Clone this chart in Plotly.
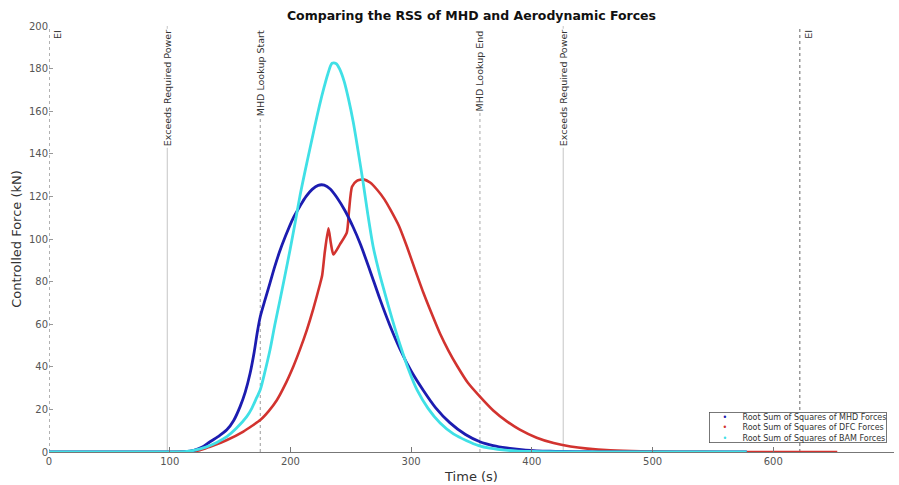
import plotly.graph_objects as go

# ---------------- data ----------------
mhd_t = [0, 100, 112, 120, 127, 133.4, 140, 147.3, 153, 158.3, 162.5, 166.6, 170, 172.5,
         175, 179, 183.1, 187, 191, 196, 202, 208, 213, 218, 223, 228, 233, 238.5, 245,
         252, 258, 266, 274, 282, 291, 300, 310, 320, 332, 345, 357, 368, 379, 395,
         415, 450, 500, 578]
mhd_v = [0, 0, 0.2, 0.8, 2.3, 4.8, 7.2, 10.4, 14.8, 21.3, 28, 37, 47, 56,
         63.5, 71.5, 79.4, 87, 94, 101.5, 109.5, 115.5, 120, 123.3, 125.2, 125.3, 123.5, 119.5, 113.5,
         105.5, 97.5, 85, 72, 60, 48, 38, 29, 21, 13.8, 8.2, 4.8, 3.0, 1.9, 0.9,
         0.35, 0.1, 0, 0]

bam_t = [0, 100, 112, 120, 130, 139, 147.3, 155, 163.8, 168, 172, 175, 179, 183.1, 187,
         191.4, 195.5, 199.7, 204, 208, 212, 216, 220, 224, 228, 231, 234.5, 238, 241,
         244.5, 248, 252, 256, 260.2, 264, 268.5, 273, 277, 284, 291, 298, 305, 314,
         324, 335, 346, 356, 365, 380, 400, 430, 578]
bam_v = [0, 0, 0.2, 0.8, 2.3, 4.5, 7.2, 11, 16.6, 20.5, 25.5, 29.2, 38, 48, 59.5,
         71.5, 83, 95, 108, 120.5, 131.5, 142, 152.5, 162.5, 171.5, 177.5, 182.5, 182.3, 179.5,
         174, 166, 155, 141.5, 126.6, 112, 96.5, 85.5, 77, 63, 50, 38.5, 29, 20.5,
         13.6, 8.5, 5.3, 3.0, 1.8, 0.8, 0.25, 0.05, 0]

dfc_t = [0, 100, 115, 125, 133.4, 147, 161, 168, 175, 182, 188.7, 195, 202.5, 208,
         213.5, 219, 224.6, 226.3, 228.5, 231.5, 233.5, 235.6, 241, 246.7, 248.5, 251,
         255, 260.5, 266, 272, 278, 282.6, 290, 296.4, 303, 310, 317, 324, 331, 338,
         347, 357, 368, 379, 390, 404, 418, 432, 446, 465, 490, 520, 560, 653]
dfc_v = [0, 0, 0.2, 0.8, 2.5, 5.5, 9.6, 12.2, 15, 19.2, 24.3, 30.9, 40.3, 48.3,
         57.1, 67.3, 79, 83, 94, 105, 98, 92.7, 97.5, 103, 113, 124.5,
         127.3, 128, 126.5, 123, 118.5, 114, 106, 96.6, 86, 75, 65, 55.5, 47.5, 40.5,
         32.5, 26, 19.5, 14.5, 10.5, 6.7, 4.2, 2.6, 1.6, 0.8, 0.3, 0.1, 0, 0]

series_names = ["Root Sum of Squares of MHD Forces",
                "Root Sum of Squares of DFC Forces",
                "Root Sum of Squares of BAM Forces"]

event_times = [0, 98, 175, 357, 426, 622]
event_labels = ["EI", "Exceeds Required Power", "MHD Lookup Start",
                "MHD Lookup End", "Exceeds Required Power", "EI"]

x_ticks = [0, 100, 200, 300, 400, 500, 600, 700]
y_ticks = [0, 20, 40, 60, 80, 100, 120, 140, 160, 180, 200]

# ---------------- styling ----------------
FONT = "DejaVu Sans"
C_MHD = "#1c1cb0"
C_DFC = "#d2332f"
C_BAM = "#40e0e6"

fig = go.Figure()

line_styles = {
    "EI": dict(color="#666666", width=1, dash="3px,3px"),
    "Exceeds Required Power": dict(color="#cfcfcf", width=1.2, dash="solid"),
    "MHD Lookup Start": dict(color="#9a9a9a", width=1, dash="3px,3px"),
    "MHD Lookup End": dict(color="#a8a8a8", width=1, dash="3px,3px"),
}
for t, lab in zip(event_times, event_labels):
    fig.add_shape(type="line", xref="x", yref="y", x0=t, x1=t, y0=0, y1=200,
                  line=line_styles[lab], layer="below")
    is_ei = lab == "EI"
    fig.add_annotation(x=t, y=200, xref="x", yref="y", text=lab, showarrow=False,
                       textangle=-90, xanchor="left" if is_ei else "center",
                       yanchor="top", xshift=1 if is_ei else 0, yshift=-2,
                       bgcolor=None if is_ei else "white",
                       font=dict(family=FONT, size=9.5, color="#333333"))

common = dict(mode="lines", line_shape="spline", showlegend=False, hoverinfo="x+y")
fig.add_trace(go.Scatter(x=dfc_t, y=dfc_v, name=series_names[1],
                         line=dict(color=C_DFC, width=2.6, smoothing=0.6), **common))
fig.add_trace(go.Scatter(x=mhd_t, y=mhd_v, name=series_names[0],
                         line=dict(color=C_MHD, width=2.8, smoothing=0.8), **common))
fig.add_trace(go.Scatter(x=bam_t, y=bam_v, name=series_names[2],
                         line=dict(color=C_BAM, width=2.8, smoothing=0.8), **common))

# legend box (MATLAB style, dot markers)
bullet = ("&nbsp;&nbsp;&nbsp;&nbsp;&nbsp;<span style='color:{}'>&#8226;</span>"
          "&nbsp;&nbsp;&nbsp;&nbsp;&nbsp;&nbsp;{}")
leg_text = "<br>".join([bullet.format(C_MHD, series_names[0]),
                        bullet.format(C_DFC, series_names[1]),
                        bullet.format(C_BAM, series_names[2])])
fig.add_annotation(xref="paper", yref="paper", x=0.9917, y=0.021,
                   xanchor="right", yanchor="bottom", text=leg_text, align="left",
                   showarrow=False, bgcolor="white", bordercolor="#555555",
                   borderwidth=0.8, borderpad=0,
                   font=dict(family=FONT, size=8, color="#333333"))

fig.update_layout(
    width=899, height=485,
    margin=dict(l=49, r=5, t=26, b=33),
    paper_bgcolor="white", plot_bgcolor="white",
    font=dict(family=FONT, color="#444444"),
    title=dict(text="<b>Comparing the RSS of MHD and Aerodynamic Forces</b>",
               x=0.5, xref="paper", y=0.976, yanchor="top",
               font=dict(family=FONT, size=12.5, color="#111111")),
)
fig.update_xaxes(range=[0, 700], tickvals=x_ticks, showgrid=False, zeroline=False,
                 showline=True, linecolor="#777777", linewidth=1,
                 ticks="inside", ticklen=5, tickcolor="#777777",
                 tickfont=dict(family=FONT, size=10, color="#555555"),
                 title=dict(text="Time (s)", standoff=5,
                            font=dict(family=FONT, size=13, color="#333333")))
fig.update_yaxes(range=[0, 200], tickvals=y_ticks, showgrid=False, zeroline=False,
                 showline=False, ticks="inside", ticklen=4, tickcolor="#999999",
                 tickfont=dict(family=FONT, size=10, color="#555555"),
                 title=dict(text="Controlled Force (kN)", standoff=4,
                            font=dict(family=FONT, size=13, color="#333333")))

fig.write_html("out.html")
